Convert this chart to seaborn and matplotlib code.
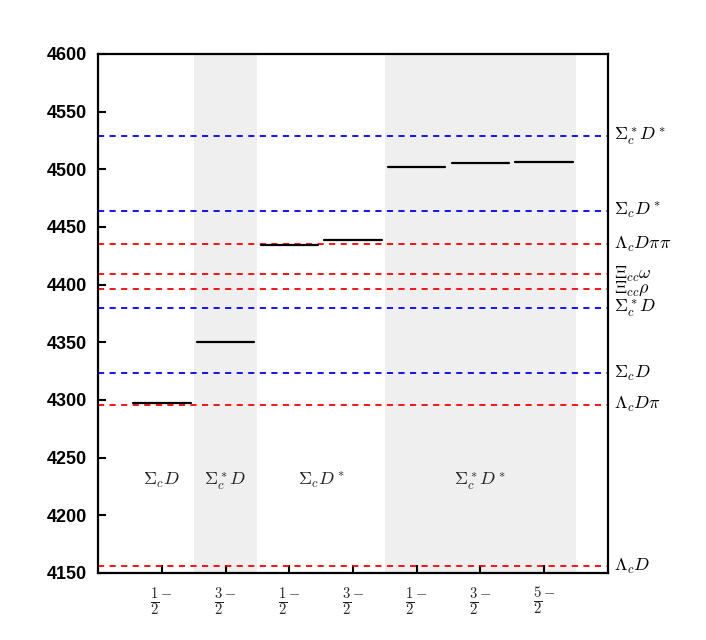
import matplotlib
matplotlib.use("Agg")
import matplotlib.pyplot as plt
import matplotlib.transforms as mtransforms
import numpy as np
import pandas as pd
import seaborn as sns

# thresholds (MeV)
thr_names = [r"$\Sigma_c^*D^*$", r"$\Sigma_cD^*$", r"$\Lambda_cD\pi\pi$", r"$\Xi_{cc}\omega$",
             r"$\Xi_{cc}\rho$", r"$\Sigma_c^*D$", r"$\Sigma_cD$", r"$\Lambda_cD\pi$", r"$\Lambda_cD$"]
thr_mass = [4529, 4464, 4435, 4409, 4396, 4380, 4323, 4296, 4156]
thr_color = ["blue", "blue", "red", "red", "red", "blue", "blue", "red", "red"]

# states
state_pos = [1, 2, 3, 4, 5, 6, 7]
state_mass = [4297, 4350, 4434.5, 4439, 4502, 4505.5, 4506]
jp_labels = [r"$\frac{1}{2}^{-}$", r"$\frac{3}{2}^{-}$", r"$\frac{1}{2}^{-}$", r"$\frac{3}{2}^{-}$",
             r"$\frac{1}{2}^{-}$", r"$\frac{3}{2}^{-}$", r"$\frac{5}{2}^{-}$"]

# channel groups
group_names = [r"$\Sigma_cD$", r"$\Sigma_c^*D$", r"$\Sigma_cD^*$", r"$\Sigma_c^*D^*$"]
group_x = [1, 2, 3.5, 6]
shade_spans = [(1.5, 2.5), (4.5, 7.5)]

sns.set_theme(style="white")
plt.rcParams["font.family"] = ["Liberation Sans", "DejaVu Sans"]
plt.rcParams["mathtext.fontset"] = "cm"
plt.rcParams["text.color"] = "black"
plt.rcParams["xtick.color"] = "black"
plt.rcParams["ytick.color"] = "black"

fig = plt.figure(figsize=(7.06, 6.4), dpi=100)
ax = fig.add_axes([0.139, 0.1047, 0.722, 0.811])

for a, b in shade_spans:
    ax.axvspan(a, b, color="#efefef", lw=0, zorder=0)

for m, c in zip(thr_mass, thr_color):
    ax.axhline(m, color=c, lw=1.3, dashes=(3.4, 3.0), zorder=2)

df = pd.DataFrame({"x": state_pos, "m": state_mass})
for _, r in df.iterrows():
    sns.lineplot(x=[r.x - 0.45, r.x + 0.45], y=[r.m, r.m], color="black", lw=1.6, ax=ax, zorder=3)

trans = mtransforms.blended_transform_factory(ax.transAxes, ax.transData)
for name, m in zip(thr_names, thr_mass):
    ax.text(1.012, m, name, transform=trans, fontsize=13, va="center", ha="left", color="black")

for name, x in zip(group_names, group_x):
    ax.text(x, 4230, name, fontsize=13, ha="center", va="center", color="#222222")

ax.set_xlim(0, 8)
ax.set_ylim(4150, 4600)
ax.set_xticks(state_pos)
ax.set_xticklabels(jp_labels, fontsize=15, color="#222222")
ax.set_yticks(np.arange(4150, 4601, 50))
ax.set_yticklabels([str(v) for v in range(4150, 4601, 50)], fontsize=13, fontweight="bold",
                   color="black")
ax.tick_params(axis="both", direction="in", length=6, width=1.5, left=True, bottom=True,
               top=False, right=False)
ax.tick_params(axis="x", pad=9)
ax.tick_params(axis="y", pad=8)
for s in ax.spines.values():
    s.set_color("black")
    s.set_linewidth(1.6)
ax.set_xlabel("")
ax.set_ylabel("")

fig.savefig("out.png", dpi=100)
